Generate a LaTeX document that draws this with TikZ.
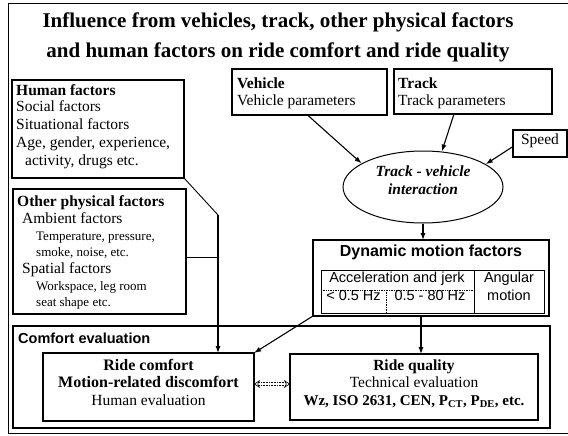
\documentclass[tikz,border=0pt]{standalone}
\usepackage{fontspec}
\setmainfont{Liberation Serif}
\setsansfont{Liberation Sans}
\usetikzlibrary{arrows.meta,shapes.geometric,calc}
\begin{document}
\begin{tikzpicture}[x=1pt,y=-1pt,
  box/.style={draw, line width=1.2pt, inner sep=0pt, outer sep=0pt},
  body/.style={inner sep=0pt, anchor=mid west, font=\fontsize{15.5}{18}\selectfont},
  bodyc/.style={inner sep=0pt, anchor=mid, font=\fontsize{15.5}{18}\selectfont},
  bodyb/.style={inner sep=0pt, anchor=mid west, font=\fontsize{15.5}{18}\selectfont\bfseries},
  small/.style={inner sep=0pt, anchor=mid west, font=\fontsize{13}{15}\selectfont},
  title/.style={inner sep=0pt, anchor=mid, font=\fontsize{21}{24}\selectfont\bfseries},
  sanslbl/.style={inner sep=0pt, anchor=mid, font=\sffamily\fontsize{14.5}{17}\selectfont},
  arr/.style={line width=1.1pt, -{Latex[length=7pt,width=5pt]}},
  link/.style={line width=0.9pt}
]
\useasboundingbox (0,0) rectangle (568,436);
% outer frame
\draw[line width=1pt] (8,4) rectangle (572,433);

% title
\node[title] (t1) at (278,25) {Influence from vehicles, track, other physical factors};
\node[title] (t2) at (278,55) {and human factors on ride comfort and ride quality};

% human factors
\node[box, minimum width=172pt, minimum height=98pt] (hum) at (98,129) {};
\node[bodyb] (hum1) at (16,93) {Human factors};
\node[body] (hum2) at (16,109) {Social factors};
\node[body] (hum3) at (16,127) {Situational factors};
\node[body] (hum4) at (16,145) {Age, gender, experience,};
\node[body] (hum5) at (25,163) {activity, drugs etc.};

% other physical factors
\node[box, minimum width=173pt, minimum height=125pt] (oth) at (99.5,251.5) {};
\node[bodyb] (oth1) at (17,204) {Other physical factors};
\node[body] (oth2) at (22,221) {Ambient factors};
\node[small] (oth3) at (36,238) {Temperature, pressure,};
\node[small] (oth4) at (36,254) {smoke, noise, etc.};
\node[body] (oth5) at (22,271) {Spatial factors};
\node[small] (oth6) at (36,288) {Workspace, leg room};
\node[small] (oth7) at (36,304) {seat shape etc.};

% vehicle, track, speed
\node[box, minimum width=155pt, minimum height=46pt] (veh) at (309.5,92) {};
\node[bodyb] (veh1) at (237,86) {Vehicle};
\node[body] (veh2) at (237,103) {Vehicle parameters};
\node[box, minimum width=158pt, minimum height=45pt] (trk) at (473,91.5) {};
\node[bodyb] (trk1) at (398,86) {Track};
\node[body] (trk2) at (398,103) {Track parameters};
\node[box, minimum width=54pt, minimum height=27pt] (spd) at (540,143.5) {};
\node[bodyc] (spd1) at (540,142) {Speed};

% ellipse
\node[draw, ellipse, line width=1pt, minimum width=160pt, minimum height=72pt, inner sep=0pt] (ell) at (423,187) {};
\node[bodyc, font=\fontsize{15.5}{18}\selectfont\bfseries\itshape] (ell1) at (423,174) {Track - vehicle};
\node[bodyc, font=\fontsize{15.5}{18}\selectfont\bfseries\itshape] (ell2) at (423,192) {interaction};

% dynamic motion factors
\node[box, minimum width=236pt, minimum height=76pt] (dyn) at (431,278) {};
\node[inner sep=0pt, anchor=mid, font=\sffamily\bfseries\fontsize{16}{19}\selectfont] (dyn1) at (431,254) {Dynamic motion factors};
\node[draw, line width=0.8pt, inner sep=0pt, minimum width=223pt, minimum height=43pt] (tab) at (432.5,291.5) {};
\coordinate (divx) at (474,270);
\draw[line width=0.8pt] (divx) -- (divx |- tab.south);
\coordinate (dh) at (321,290);
\draw[line width=0.7pt, densely dotted] (dh) -- (dh -| divx);
\coordinate (dv) at (386,290);
\draw[line width=0.7pt, densely dotted] (dv) -- (dv |- tab.south);
\node[sanslbl] (acc) at (397,280) {Acceleration and jerk};
\node[sanslbl] (ang1) at (509,280) {Angular};
\node[sanslbl] (ang2) at (509,298) {motion};
\node[sanslbl] (f1) at (353.5,298) {< 0.5 Hz};
\node[sanslbl] (f2) at (430,298) {0.5 - 80 Hz};

% comfort evaluation
\node[box, minimum width=537pt, minimum height=102pt] (ce) at (281.5,377) {};
\node[inner sep=0pt, anchor=mid west, font=\sffamily\bfseries\fontsize{14.5}{17}\selectfont] (ce1) at (18,341) {Comfort evaluation};
\node[box, minimum width=211pt, minimum height=68pt] (rc) at (148.5,387) {};
\node[bodyc, font=\fontsize{16}{19}\selectfont\bfseries] (rc1) at (148.5,368) {Ride comfort};
\node[bodyc, font=\fontsize{16}{19}\selectfont\bfseries] (rc2) at (148.5,385) {Motion-related discomfort};
\node[bodyc] (rc3) at (148.5,403) {Human evaluation};
\node[box, minimum width=248pt, minimum height=66pt] (rq) at (414,387) {};
\node[bodyc, font=\fontsize{15.5}{18}\selectfont\bfseries] (rq1) at (414,368) {Ride quality};
\node[bodyc] (rq2) at (414,385) {Technical evaluation};
\node[bodyc, font=\fontsize{15}{18}\selectfont\bfseries] (rq3) at (414,403) {Wz, ISO 2631, CEN, P\textsubscript{CT}, P\textsubscript{DE}, etc.};

% connectors
\draw[arr] ([xshift=-2pt]veh.south) -- (ell.159);
\draw[arr] ([xshift=-19pt]trk.south) -- (ell.62);
\draw[arr] ([yshift=-3pt]spd.west) -- (ell.20);
\draw[arr] (ell.south) -- (ell.south |- dyn.north);
\coordinate (dq) at (421,316);
\draw[arr] (dq) -- (dq |- rq.north);
\draw[arr] (dyn.south west) -- (rc.north east);
\coordinate (bend) at (218,215);
\draw[link] (hum.south east) -- (bend);
\draw[arr] (bend) -- (bend |- rc.north);
\coordinate (oj) at (186,257);
\draw[link] (oj) -- (oj -| bend);
\draw[line width=0.6pt, densely dotted, double, double distance=2.5pt, {Stealth[open,length=6pt,width=8pt]}-{Stealth[open,length=6pt,width=8pt]}] ([yshift=3pt]rc.east) -- ([yshift=3pt]rq.west);
\end{tikzpicture}
\end{document}
